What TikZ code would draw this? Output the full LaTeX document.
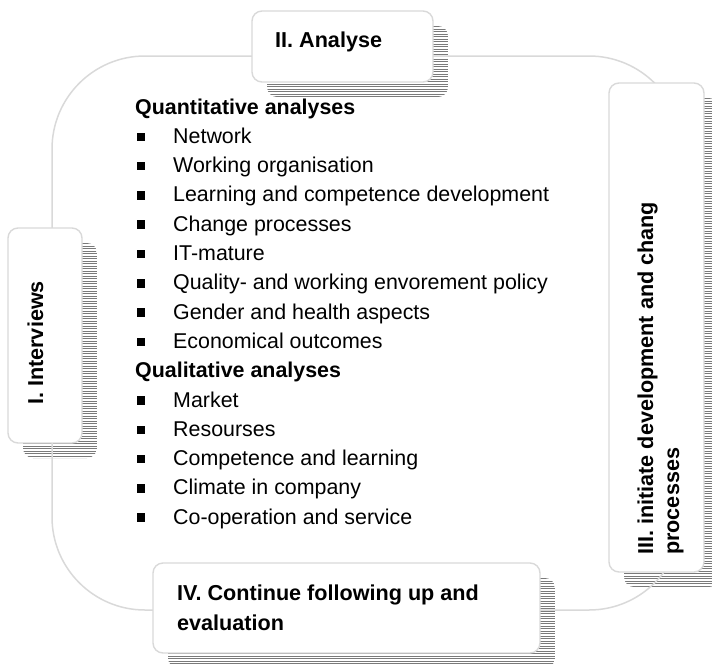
\documentclass[tikz,border=0pt]{standalone}
\usepackage{fontspec}
\setmainfont{Liberation Sans}
\definecolor{boxline}{HTML}{D9D9D9}
\definecolor{shadowline}{HTML}{7A7A7A}
\newcommand\hatchshadow[4]{%
  \begin{scope}
    \clip[rounded corners=10pt] ({#1+15},{#2+15}) rectangle ({#3+15},{#4+15});
    \foreach \i in {0,...,200}
      \draw[shadowline, line width=0.7pt] ({#1+15},{#2+15.5+2.5*\i}) -- ({#3+15},{#2+15.5+2.5*\i});
  \end{scope}}
\begin{document}
\begin{tikzpicture}[x=1pt,y=-1pt,
  stage/.style={draw=boxline, line width=1.4pt, fill=white, rounded corners=10pt, inner sep=0pt},
  lbl/.style={font=\bfseries\fontsize{21.6}{28}\selectfont, inner sep=0pt, anchor=base west},
  item/.style={font=\fontsize{21.4}{29}\selectfont, inner sep=0pt, anchor=base west},
  head/.style={font=\bfseries\fontsize{21.4}{29}\selectfont, inner sep=0pt, anchor=base west},
  bul/.style={fill=black, draw=none, minimum size=8.5pt, inner sep=0pt}]
\useasboundingbox (0,0) rectangle (712,665);
% shadows
\hatchshadow{252}{11}{433}{82}
\hatchshadow{8}{228}{82}{443}
\hatchshadow{609}{83}{704}{572}
\hatchshadow{153}{563}{540}{653}
% cycle line
\draw[boxline, line width=1.5pt, rounded corners=93pt] (52,56) rectangle (682,610);
% boxes
\node[stage, minimum width=181pt, minimum height=71pt] (analyse) at (342.5,46.5) {};
\node[stage, minimum width=74pt, minimum height=215pt] (interviews) at (45,335.5) {};
\node[stage, minimum width=95pt, minimum height=489pt] (initiate) at (656.5,327.5) {};
\node[stage, minimum width=387pt, minimum height=90pt] (continue) at (346.5,608) {};
% box texts
\node[lbl] (analyseT) at (275,47) {II. Analyse};
\node[lbl, rotate=90] (interviewsT) at (43,405) {I. Interviews};
\node[lbl, rotate=90] (initiateA) at (653,555) {III. initiate development and chang};
\node[lbl, rotate=90] (initiateB) at (679,555) {processes};
\node[lbl] (continueA) at (177,600) {IV. Continue following up and};
\node[lbl] (continueB) at (177,630) {evaluation};
% list
\node[head] (quant) at (135,114) {Quantitative analyses};
\node[head] (qual) at (135,{114+29.3*9}) {Qualitative analyses};
\foreach \k/\t in {1/Network, 2/Working organisation, 3/Learning and competence development,
  4/Change processes, 5/IT-mature, 6/Quality- and working envorement policy,
  7/Gender and health aspects, 8/Economical outcomes, 10/Market, 11/Resourses,
  12/Competence and learning, 13/Climate in company, 14/Co-operation and service}
{
  \node[item] (it\k) at (173,{114+29.3*\k}) {\t};
  \node[bul] (bu\k) at (141,{114+29.3*\k-6.5}) {};
}
\end{tikzpicture}
\end{document}
